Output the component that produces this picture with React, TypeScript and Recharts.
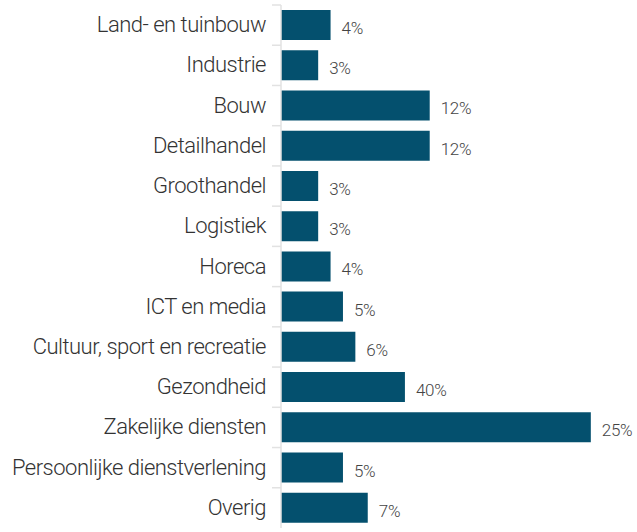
import { BarChart, Bar, XAxis, YAxis, LabelList } from 'recharts';

const categories = [
  'Land- en tuinbouw',
  'Industrie',
  'Bouw',
  'Detailhandel',
  'Groothandel',
  'Logistiek',
  'Horeca',
  'ICT en media',
  'Cultuur, sport en recreatie',
  'Gezondheid',
  'Zakelijke diensten',
  'Persoonlijke dienstverlening',
  'Overig',
];

// bar lengths as drawn (Gezondheid is drawn shorter than its printed label)
const values = [4, 3, 12, 12, 3, 3, 4, 5, 6, 10, 25, 5, 7];
const valueLabels = ['4%', '3%', '12%', '12%', '3%', '3%', '4%', '5%', '6%', '40%', '25%', '5%', '7%'];

const data = categories.map((name, i) => ({ name, value: values[i], label: valueLabels[i] }));

const W = 637;
const H = 532;
const TOP = 5;
const BOTTOM = 4;
const BAND = (H - TOP - BOTTOM) / categories.length;

const CategoryTick = (props: any) => {
  const { x, y, payload } = props;
  return (
    <g>
      <line x1={x + 6} x2={x + 15} y1={y - BAND / 2} y2={y - BAND / 2} stroke="#e2e2e2" strokeWidth={1.5} />
      <text x={x} y={y} dy={7} textAnchor="end" fontSize={22} fontWeight={300} letterSpacing={-0.5} fill="#333" fontFamily="Roboto, sans-serif">
        {payload.value}
      </text>
    </g>
  );
};

const ValueLabel = (props: any) => {
  const { x, y, width, height, index } = props;
  return (
    <text x={x + width + 11} y={y + height / 2} dy={9} fontSize={17} fontWeight={300} letterSpacing={-0.3} fill="#444" fontFamily="Roboto, sans-serif">
      {data[index].label}
    </text>
  );
};

export default function App() {
  return (
    <div style={{ position: 'absolute', left: 0, top: 0, width: W, height: H, background: '#fff' }}>
      <BarChart width={W} height={H} data={data} layout="vertical" margin={{ top: TOP, right: 9, bottom: BOTTOM, left: 0 }}>
        <XAxis type="number" domain={[0, 28]} hide />
        <YAxis
          type="category"
          dataKey="name"
          width={281}
          tickSize={9}
          tickMargin={6}
          tickLine={false}
          axisLine={{ stroke: '#e2e2e2', strokeWidth: 1.5 }}
          tick={<CategoryTick />}
          interval={0}
        />
        <Bar dataKey="value" fill="#04506e" barSize={30} isAnimationActive={false}>
          <LabelList dataKey="label" content={<ValueLabel />} />
        </Bar>
      </BarChart>
    </div>
  );
}
